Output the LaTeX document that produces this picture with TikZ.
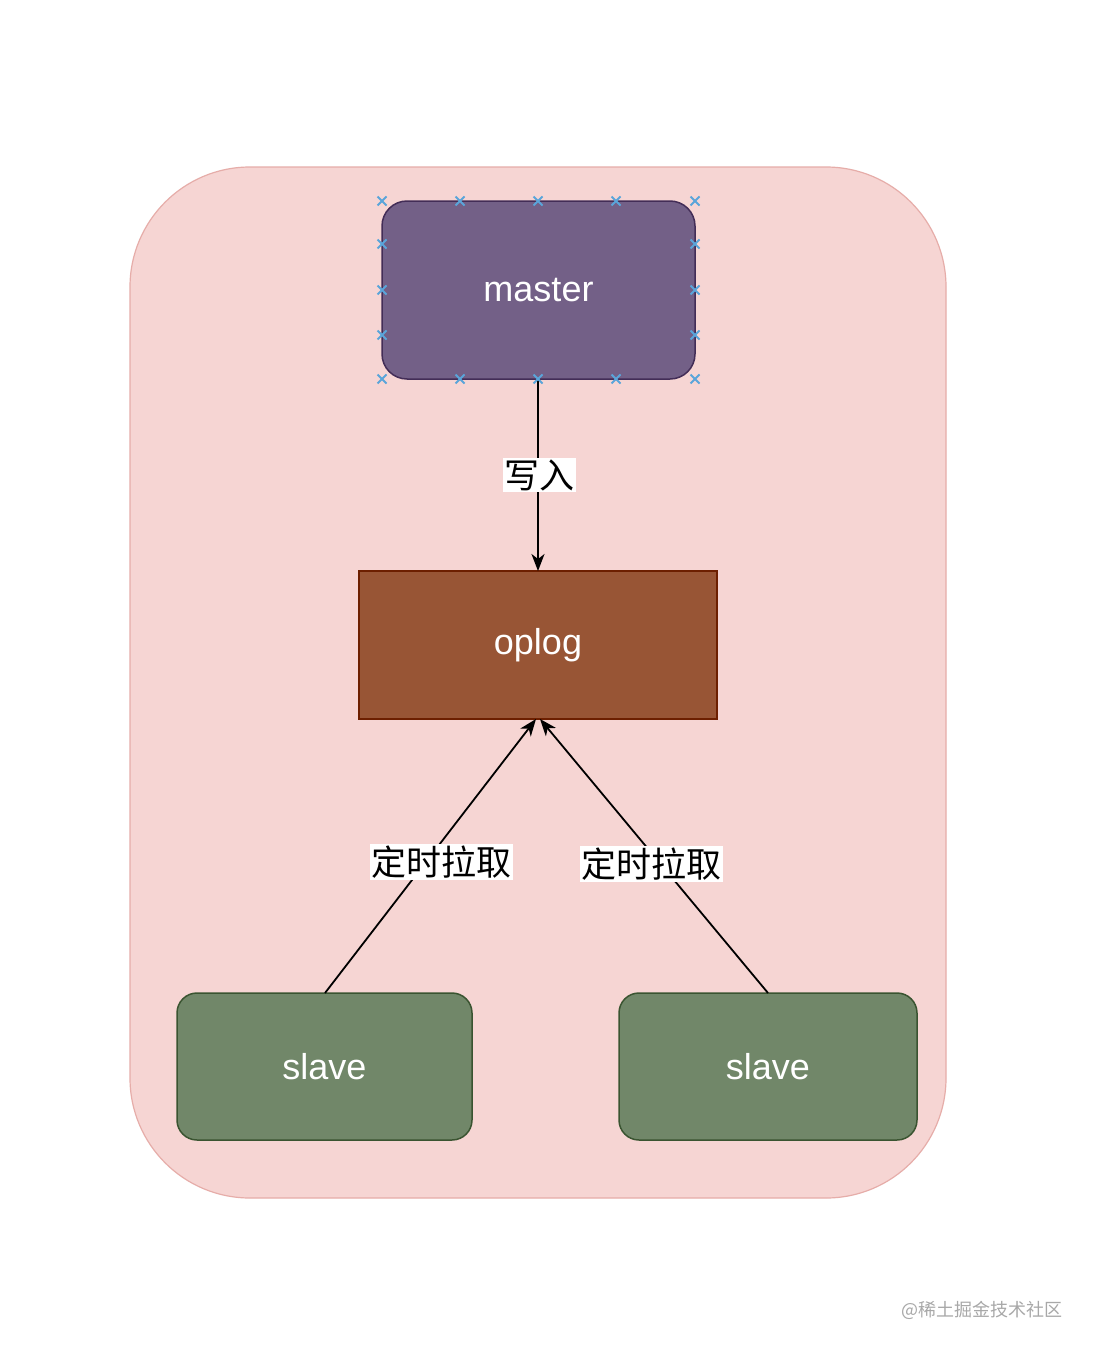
\documentclass[tikz,border=0pt]{standalone}
\usepackage{fontspec}
\setmainfont{Liberation Sans}
\newfontfamily\cjk{Noto Sans CJK SC}
\usetikzlibrary{arrows.meta}
\definecolor{contfill}{HTML}{F6D5D3}
\definecolor{contdraw}{HTML}{E6ADA9}
\definecolor{mfill}{HTML}{736087}
\definecolor{mdraw}{HTML}{432D57}
\definecolor{ofill}{HTML}{985535}
\definecolor{odraw}{HTML}{6D1F00}
\definecolor{sfill}{HTML}{718769}
\definecolor{sdraw}{HTML}{3A5431}
\definecolor{handle}{HTML}{5AA5DA}
\definecolor{wm}{HTML}{A8A8A8}
\tikzset{
  box/.style={line width=1.5pt, text=white, font=\fontsize{36}{42}\selectfont},
  conn/.style={line width=1.8pt, -{Stealth[length=17pt,width=13pt,inset=5pt]}},
  lbl/.style={fill=white, inner sep=1.5pt, font=\cjk\fontsize{35}{40}\selectfont},
  hmark/.style={handle, line width=1.8pt}
}
\newcommand{\hx}[2]{\draw[hmark] (#1-4.5,#2-4.5) -- (#1+4.5,#2+4.5) (#1-4.5,#2+4.5) -- (#1+4.5,#2-4.5);}
\begin{document}
\begin{tikzpicture}[x=1pt,y=-1pt]
\useasboundingbox[fill=white] (0,0) rectangle (1096,1354);
% container
\draw[fill=contfill, draw=contdraw, line width=1.2pt, rounded corners=120pt] (130,167) rectangle (946,1198);
% nodes
\node[box, draw=mdraw, fill=mfill, rounded corners=25pt, minimum width=313pt, minimum height=178pt] (master) at (538.5,290) {\raisebox{-2pt}{master}};
\node[box, draw=odraw, fill=ofill, minimum width=358pt, minimum height=148pt] (oplog) at (538,645) {\raisebox{-2pt}{oplog}};
\node[box, draw=sdraw, fill=sfill, rounded corners=20pt, minimum width=295pt, minimum height=147pt] (slave1) at (324.5,1066.5) {\raisebox{-2pt}{slave}};
\node[box, draw=sdraw, fill=sfill, rounded corners=20pt, minimum width=298pt, minimum height=147pt] (slave2) at (768,1066.5) {\raisebox{-2pt}{slave}};
% connectors
\coordinate (mb) at (538,379);
\coordinate (ot) at (538,571);
\coordinate (ob1) at (536,719);
\coordinate (ob2) at (540,719);
\coordinate (s1t) at (325,993);
\coordinate (s2t) at (768,993);
\draw[conn] (mb) -- (ot);
\draw[conn] (s1t) -- (ob1);
\draw[conn] (s2t) -- (ob2);
\node[lbl] (l1) at (539,475) {写入};
\node[lbl] (l2) at (441,862) {定时拉取};
\node[lbl] (l3) at (651,864) {定时拉取};
% selection handles
\foreach \xx in {382,460,538,616,695} {\hx{\xx}{201}\hx{\xx}{379}}
\foreach \yy in {244,290,335} {\hx{382}{\yy}\hx{695}{\yy}}
% watermark
\node[text=wm, font=\cjk\fontsize{18}{20}\selectfont, inner sep=0pt] (wmk) at (982,1310) {@稀土掘金技术社区};
\end{tikzpicture}
\end{document}
